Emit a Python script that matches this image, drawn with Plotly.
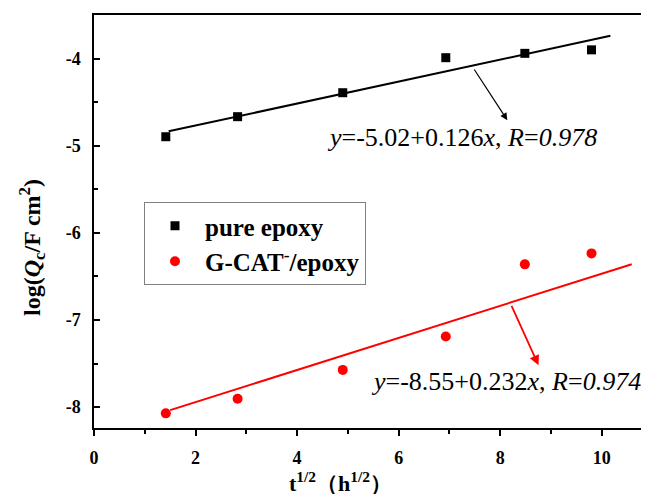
import plotly.graph_objects as go

# ---- data ----
t_sqrt = [1.414, 2.828, 4.899, 6.928, 8.485, 9.798]
pure_epoxy = [-4.897, -4.667, -4.392, -3.99, -3.94, -3.90]
gcat_epoxy = [-8.072, -7.905, -7.573, -7.19, -6.362, -6.236]

# fitted lines (endpoints as drawn)
pure_fit_x = [1.47, 10.17]
pure_fit_y = [-4.835, -3.739]
gcat_fit_x = [1.50, 10.59]
gcat_fit_y = [-8.035, -6.36]

x_ticks = [0, 2, 4, 6, 8, 10]
y_ticks = [-8, -7, -6, -5, -4]
y_ticktext = ["-8", "-7", "-6", "-5", "-4"]

pure_label = "pure epoxy"
gcat_label = "G-CAT<sup>-</sup>/epoxy"
pure_eq = "<i>y</i>=-5.02+0.126<i>x</i>, <i>R</i>=<i>0.978</i>"
gcat_eq = "<i>y</i>=-8.55+0.232<i>x</i>, <i>R</i>=<i>0.974</i>"

# arrow (tail -> tip) in data units
pure_arrow_tail = (7.47, -4.108)
pure_arrow_tip = (8.14, -4.707)
gcat_arrow_tail = (8.21, -6.82)
gcat_arrow_tip = (8.754, -7.52)

FONT = "Liberation Serif, Times New Roman, serif"

# page body has an 8px default margin: size figure so it fits the 649x494 window
W, H = 641, 486
ML, MT, MB = 86, 7, 66
PW, PH = W - ML, H - MT - MB


def px(x):  # page pixel x -> paper
    return (x - 8 - ML) / PW


def py(y):  # page pixel y -> paper
    return 1 - (y - 8 - MT) / PH


fig = go.Figure()
fig.add_trace(go.Scatter(x=pure_fit_x, y=pure_fit_y, mode="lines",
                         line=dict(color="black", width=2), showlegend=False, hoverinfo="skip"))
fig.add_trace(go.Scatter(x=gcat_fit_x, y=gcat_fit_y, mode="lines",
                         line=dict(color="#ff0000", width=2), showlegend=False, hoverinfo="skip"))
fig.add_trace(go.Scatter(x=t_sqrt, y=pure_epoxy, mode="markers", name=pure_label, legendgroup="a",
                         marker=dict(symbol="square", size=9, color="black")))
fig.add_trace(go.Scatter(x=t_sqrt, y=gcat_epoxy, mode="markers", name=gcat_label, legendgroup="b",
                         marker=dict(symbol="circle", size=10, color="#ff0000")))

fig.update_layout(
    width=W, height=H,
    margin=dict(l=ML, r=0, t=MT, b=MB, pad=0),
    paper_bgcolor="white", plot_bgcolor="white",
    font=dict(family=FONT, color="black"),
    legend=dict(x=px(144), y=py(202), xanchor="left", yanchor="top",
                bordercolor="#808080", borderwidth=1, bgcolor="white",
                font=dict(family=FONT, size=25, color="black", weight="bold"),
                traceorder="grouped", tracegroupgap=0, itemwidth=50),
)
fig.update_xaxes(range=[0, 10.93], tickvals=x_ticks, showgrid=False, zeroline=False,
                 showline=True, linecolor="black", linewidth=1.5, mirror=True,
                 ticks="outside", ticklen=6, tickwidth=1.5, tickcolor="black",
                 minor=dict(dtick=1, ticks="outside", ticklen=4, tickwidth=1.5, tickcolor="black"),
                 tickfont=dict(family=FONT, size=18, color="black", weight="bold"),
                 ticklabelstandoff=7)
fig.update_yaxes(range=[-8.24, -3.5], tickvals=y_ticks, ticktext=y_ticktext,
                 showgrid=False, zeroline=False,
                 showline=True, linecolor="black", linewidth=1.5,
                 ticks="inside", ticklen=6, tickwidth=1.5, tickcolor="black",
                 minor=dict(dtick=0.5, ticks="inside", ticklen=4, tickwidth=1.5, tickcolor="black"),
                 tickfont=dict(family=FONT, size=18, color="black", weight="bold"),
                 ticklabelstandoff=8)

fig.add_annotation(x=px(32), y=py(248), xref="paper", yref="paper", textangle=-90,
                   text="log(<i>Q</i><sub>c</sub>/F cm<sup>2</sup>)", showarrow=False,
                   xanchor="center", yanchor="middle",
                   font=dict(family=FONT, size=24, color="black", weight="bold"))
fig.add_annotation(x=px(340), y=py(482), xref="paper", yref="paper",
                   text="t<sup>1/2</sup>（h<sup>1/2</sup>）", showarrow=False,
                   xanchor="center", yanchor="middle",
                   font=dict(family=FONT, size=22, color="black", weight="bold"))

# equations
fig.add_annotation(x=px(325), y=py(137), xref="paper", yref="paper",
                   text=pure_eq, showarrow=False, xanchor="left", yanchor="middle",
                   font=dict(family=FONT, size=26, color="black"))
fig.add_annotation(x=px(369), y=py(381), xref="paper", yref="paper",
                   text=gcat_eq, showarrow=False, xanchor="left", yanchor="middle",
                   font=dict(family=FONT, size=26, color="black"))

# arrows
fig.add_annotation(x=pure_arrow_tip[0], y=pure_arrow_tip[1], ax=pure_arrow_tail[0], ay=pure_arrow_tail[1],
                   xref="x", yref="y", axref="x", ayref="y", text="", showarrow=True,
                   arrowhead=2, arrowsize=1.2, arrowwidth=1.2, arrowcolor="black")
fig.add_annotation(x=gcat_arrow_tip[0], y=gcat_arrow_tip[1], ax=gcat_arrow_tail[0], ay=gcat_arrow_tail[1],
                   xref="x", yref="y", axref="x", ayref="y", text="", showarrow=True,
                   arrowhead=2, arrowsize=1.1, arrowwidth=1.8, arrowcolor="#ff0000")

fig.write_html("out.html")
